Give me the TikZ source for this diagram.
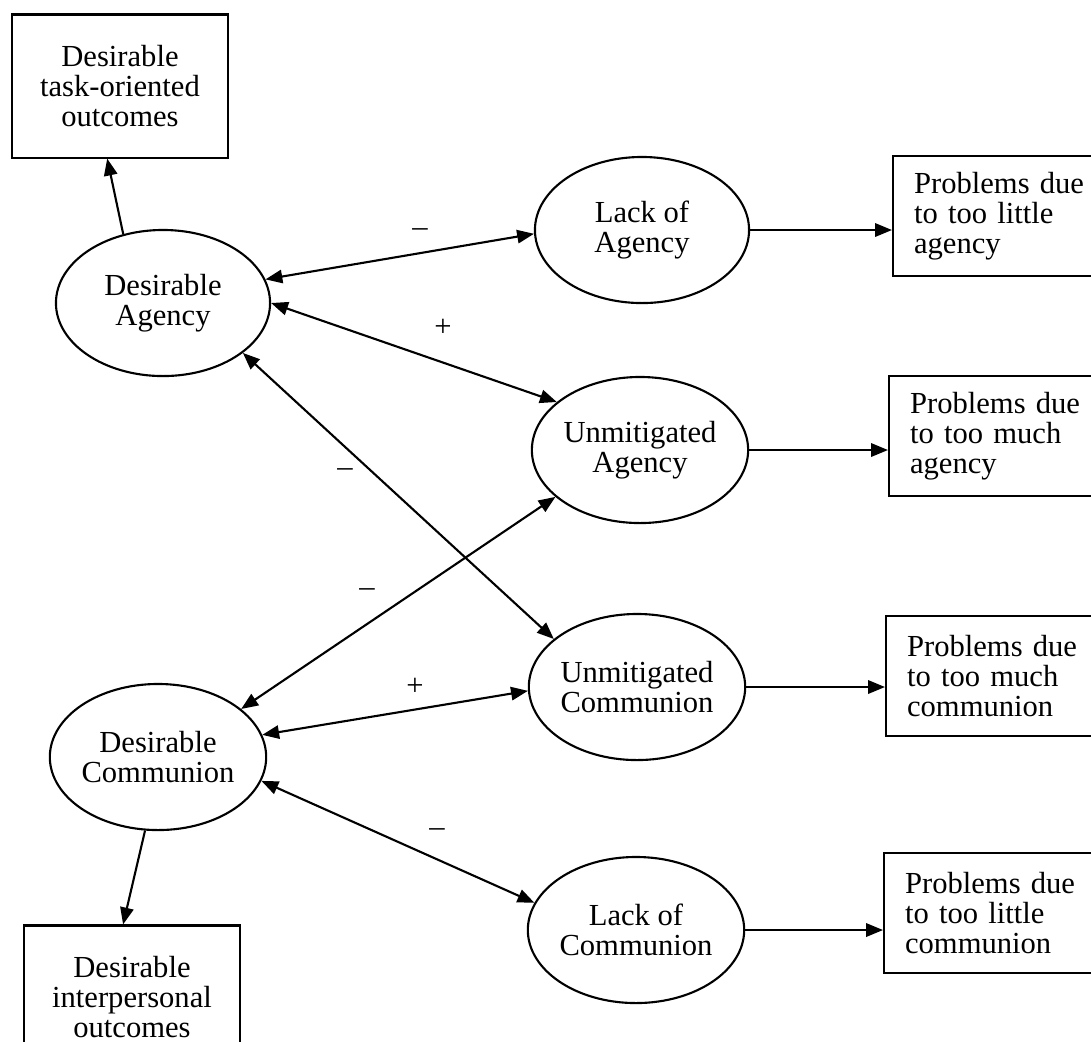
\documentclass[tikz,border=0pt]{standalone}
\usepackage{fontspec}
\setmainfont{Liberation Serif}
\usetikzlibrary{arrows.meta,shapes.geometric}
\tikzset{
  ell/.style={draw,ellipse,line width=0.6pt,minimum width=2.14cm,minimum height=1.46cm,inner sep=0pt,align=center},
  obox/.style={draw,rectangle,line width=0.6pt,minimum width=2.15cm,minimum height=1.43cm,inner sep=0pt,align=center},
  pbox/.style={draw,rectangle,line width=0.6pt,anchor=west,text width=1.75cm,inner xsep=0.21cm,minimum height=1.2cm,align=left},
  sign/.style={inner sep=0pt},
  arr/.style={line width=0.6pt,-{Triangle[length=4.8pt,width=3.8pt]}},
  darr/.style={line width=0.6pt,{Triangle[length=4.8pt,width=3.8pt]}-{Triangle[length=4.8pt,width=3.8pt]}}
}
\begin{document}
\begin{tikzpicture}[x=0.01cm,y=-0.01cm,font=\fontsize{8.7pt}{8.55pt}\selectfont]
	\useasboundingbox (0,0) rectangle (1091,1041);
	\node[obox] (task) at (120,86) {Desirable\\task-oriented\\outcomes};
	\node[obox] (inter) at (132,997) {Desirable\\interpersonal\\outcomes};
	\node[ell] (da) at (163,303) {Desirable\\Agency};
	\node[ell] (dc) at (158,757) {Desirable\\Communion};
	\node[ell] (la) at (642,230) {Lack of\\Agency};
	\node[ell] (ua) at (640,450) {Unmitigated\\Agency};
	\node[ell] (uc) at (637,687) {Unmitigated\\Communion};
	\node[ell] (lc) at (636,930) {Lack of\\Communion};
	\node[pbox] (pa1) at (892,216) {Problems due\\to too little\\agency};
	\node[pbox] (pa2) at (888,436) {Problems due\\to too much\\agency};
	\node[pbox] (pc1) at (885,676) {Problems due\\to too much\\communion};
	\node[pbox] (pc2) at (883,913) {Problems due\\to too little\\communion};
	\node[sign] (m1) at (420,233) {--};
	\node[sign] (p1) at (443,328) {+};
	\node[sign] (m2) at (345,473) {--};
	\node[sign] (m3) at (367,593) {--};
	\node[sign] (p2) at (415,687) {+};
	\node[sign] (m4) at (437,833) {--};

	\draw[arr] (da.120) -- (task.-100);
	\draw[arr] (dc.260) -- (inter.97);
	\draw[arr] (la) -- (la -| pa1.west);
	\draw[arr] (ua) -- (ua -| pa2.west);
	\draw[arr] (uc) -- (uc -| pc1.west);
	\draw[arr] (lc) -- (lc -| pc2.west);
	\draw[darr] (da.13) -- (la.182);
	\draw[darr] (da.0) -- (ua.150);
	\draw[darr] (da.-32) -- (uc.150);
	\draw[darr] (dc.30) -- (ua.209);
	\draw[darr] (dc.12) -- (uc.182);
	\draw[darr] (dc.-13) -- (lc.165);
\end{tikzpicture}
\end{document}
